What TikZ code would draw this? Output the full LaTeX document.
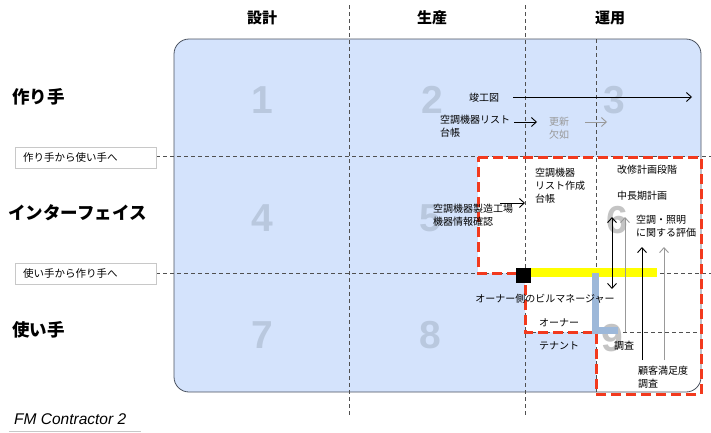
\documentclass[tikz,border=0pt]{standalone}
\usepackage{fontspec}
\setmainfont{Noto Sans CJK JP}
\newfontfamily\numfont{Liberation Sans}
\usetikzlibrary{arrows.meta}
\definecolor{cellblue}{HTML}{D4E3FC}
\definecolor{rectborder}{HTML}{4A5260}
\definecolor{numblue}{HTML}{B9C8DE}
\definecolor{numgray}{HTML}{C4C4C4}
\definecolor{reddash}{HTML}{F23A1E}
\definecolor{grayarrow}{HTML}{999999}
\definecolor{gridline}{HTML}{505050}
\definecolor{barblue}{HTML}{9DB8D9}
\definecolor{baryellow}{HTML}{FFFF00}
\definecolor{boxgray}{HTML}{C8C8C8}
\tikzset{
  header/.style={font=\bfseries\fontsize{15}{18}\selectfont},
  rowlabel/.style={font=\bfseries\fontsize{17.5}{20}\selectfont, anchor=west, inner sep=0},
  txt/.style={font=\fontsize{10}{13}\selectfont, anchor=west, align=left, inner sep=0},
  bignum/.style={font=\numfont\bfseries\fontsize{39}{40}\selectfont, text=numblue, inner sep=0},
  grid/.style={draw=gridline, line width=0.7pt, dash pattern=on 4pt off 3pt},
  arr/.style={-{Straight Barb[length=5pt,width=9pt]}, line width=0.9pt, black},
  garr/.style={-{Straight Barb[length=5pt,width=9pt]}, line width=0.9pt, grayarrow},
  sidebox/.style={draw=boxgray, line width=0.6pt, minimum width=141pt, minimum height=21pt, inner sep=0, font=\fontsize{10.5}{12}\selectfont}
}
\begin{document}
\begin{tikzpicture}[x=1pt,y=-1pt]
\useasboundingbox (0,0) rectangle (711,432);
% main area
\fill[cellblue, rounded corners=15pt] (174,39) rectangle (701,392);
\fill[white] (478,157) -- (701,157) -- (701,392) -- (596,392) -- (596,332) -- (525,332) -- (525,273) -- (478,273) -- cycle;
\draw[rectborder, line width=0.8pt, rounded corners=15pt] (174,39) rectangle (701,392);
% grid lines
\draw[grid] (349,5) -- (349,415);
\draw[grid] (525,5) -- (525,415);
\draw[grid] (596,39) -- (596,392);
\draw[grid] (156,156) -- (711,156);
\draw[grid] (156,273) -- (711,273);
\draw[grid] (525,332) -- (701,332);
% big numbers
\node[bignum] (n1) at (262,100) {1};
\node[bignum] (n2) at (432,100) {2};
\node[bignum] (n3) at (614,100) {3};
\node[bignum] (n4) at (262,218) {4};
\node[bignum] (n5) at (430,218) {5};
\node[bignum, text=numgray] (n6) at (617,220) {6};
\node[bignum] (n7) at (262,335) {7};
\node[bignum] (n8) at (430,335) {8};
\node[bignum, text=numgray] (n9) at (612,338) {9};
% red dashed region
\draw[reddash, line width=3pt, dash pattern=on 10pt off 5pt] (478,157) -- (701,157) -- (701,394) -- (596,394) -- (596,332) -- (525,332) -- (525,273) -- (478,273) -- cycle;
% bars
\fill[baryellow] (531,268) rectangle (657,277);
\draw[barblue, line width=7pt] (595,273) -- (595,330) -- (618,330);
\node[fill=black, minimum size=15pt, inner sep=0] (sq) at (523,275) {};
% headers
\node[header] (h1) at (262,18) {設計};
\node[header] (h2) at (432,18) {生産};
\node[header] (h3) at (610,18) {運用};
% row labels
\node[rowlabel] (r1) at (12,97) {作り手};
\node[rowlabel] (r2) at (8,213) {インターフェイス};
\node[rowlabel] (r3) at (12,330) {使い手};
\node[sidebox] (b1) at (85.5,157.5) {};
\node[txt, font=\fontsize{10.5}{12}\selectfont] (b1t) at (23,157.5) {作り手から使い手へ};
\node[sidebox] (b2) at (85.5,273.5) {};
\node[txt, font=\fontsize{10.5}{12}\selectfont] (b2t) at (23,273.5) {使い手から作り手へ};
% texts
\node[txt, anchor=center] (t1) at (484,98) {竣工図};
\node[txt] (t2) at (440,126.5) {空調機器リスト\\台帳};
\node[txt, text=grayarrow] (t3) at (549,128) {更新\\欠如};
\node[txt] (t4) at (535,186) {空調機器\\リスト作成\\台帳};
\node[txt] (t5) at (617,170) {改修計画段階};
\node[txt] (t6) at (617,196) {中長期計画};
\node[txt] (t7) at (433,215.5) {空調機器製造工場\\機器情報確認};
\node[txt] (t8) at (636,226.5) {空調・照明\\に関する評価};
\node[txt, anchor=center] (t9) at (545,299) {オーナー側のビルマネージャー};
\node[txt] (t10) at (539,323) {オーナー};
\node[txt] (t11) at (539,346) {テナント};
\node[txt] (t12) at (614,346) {調査};
\node[txt] (t13) at (638,377.5) {顧客満足度\\調査};
\node[anchor=west, inner sep=0, font=\numfont\itshape\fontsize{15.5}{17}\selectfont] (fm) at (14,419) {FM Contractor 2};
\draw[boxgray, line width=0.8pt] (9,431) -- (141,431);
% arrow end points
\coordinate (a1s) at (513,97);  \coordinate (a1e) at (692,97);
\coordinate (a2s) at (514,122); \coordinate (a2e) at (537,122);
\coordinate (a3s) at (585,122); \coordinate (a3e) at (607,122);
\coordinate (a4s) at (500,203); \coordinate (a4e) at (525,203);
\coordinate (a5s) at (612,217); \coordinate (a5e) at (612,289);
\coordinate (a6s) at (625,332); \coordinate (a6e) at (625,217);
\coordinate (a7s) at (642,360); \coordinate (a7e) at (642,247);
\coordinate (a8s) at (664,360); \coordinate (a8e) at (664,247);
\draw[arr] (a1s) -- (a1e);
\draw[arr] (a2s) -- (a2e);
\draw[garr] (a3s) -- (a3e);
\draw[arr] (a4s) -- (a4e);
\draw[arr, {Straight Barb[length=5pt,width=9pt]}-{Straight Barb[length=5pt,width=9pt]}] (a5s) -- (a5e);
\draw[garr] (a6s) -- (a6e);
\draw[arr] (a7s) -- (a7e);
\draw[garr] (a8s) -- (a8e);
\end{tikzpicture}
\end{document}
